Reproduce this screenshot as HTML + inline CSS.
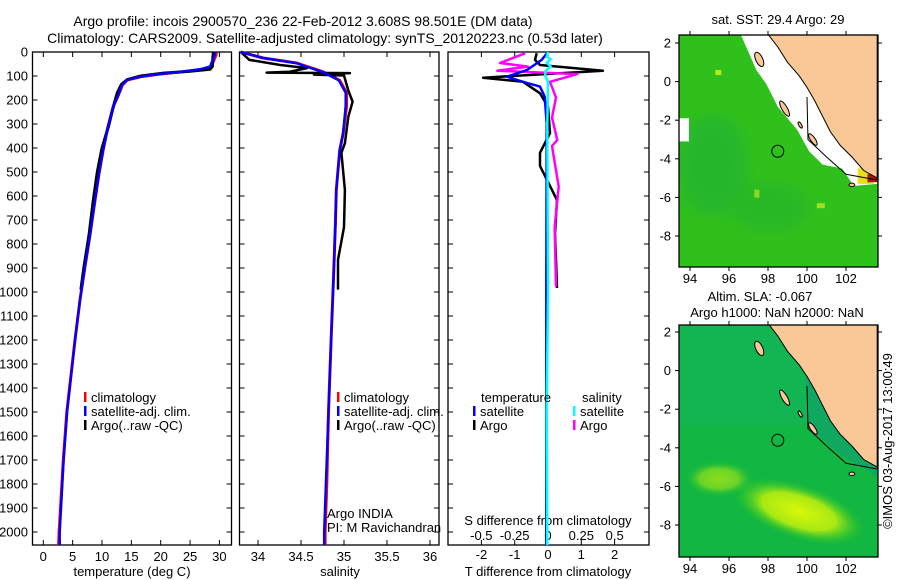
<!DOCTYPE html>
<html><head><meta charset="utf-8">
<style>
html,body{margin:0;padding:0;background:#fff;}
svg{display:block;font-family:"Liberation Sans",sans-serif;}
text{font-size:13px;fill:#000;}
</style></head>
<body>
<svg id="fig" width="900" height="580" viewBox="0 0 900 580">
<text x="303" y="26" text-anchor="middle" style="font-size:14px">Argo profile: incois 2900570_236 22-Feb-2012 3.608S 98.501E (DM data)</text>
<text x="325" y="43" text-anchor="middle" style="font-size:14px">Climatology: CARS2009. Satellite-adjusted climatology: synTS_20120223.nc (0.53d later)</text>
<g id="p1"></g>
<g id="p2"></g>
<g id="p3"></g>
<g id="m1"></g>
<g id="m2"></g>
<text x="778" y="24" text-anchor="middle">sat. SST: 29.4  Argo: 29</text>
<text x="760" y="301" text-anchor="middle">Altim. SLA: -0.067</text>
<text x="777" y="317" text-anchor="middle">Argo h1000: NaN h2000: NaN</text>
<text transform="translate(892,441) rotate(-90)" text-anchor="middle">©IMOS 03-Aug-2017 13:00:49</text>
</svg>
<script>
// ---- data ----
const tClimDepth=[0,14,61,72,83,93,103,117,137,179,228,312,408,505,617,755,894,1033,1200,1500,1700,2000,2054];
const tClim=[29.5,29.4,28.6,27.0,23.6,19.6,16.7,14.3,13.5,12.8,11.9,11.0,10.2,9.5,8.8,8.0,7.1,6.25,5.4,4.0,3.4,2.7,2.6];
const tSat=[29.3,29.2,28.4,26.7,23.3,19.4,16.5,14.2,13.4,12.8,11.9,11.0,10.2,9.5,8.8,8.0,7.1,6.25,5.4,4.05,3.45,2.8,2.8];
const tArgoDepth=[0,20,60,72,80,88,100,115,135,170,230,310,400,500,620,760,900,990];
const tArgo=[29.0,28.9,28.8,28.4,25.0,20.5,16.6,14.3,13.3,12.6,11.9,11.1,10.0,9.2,8.5,7.8,6.9,6.4];
const sClimDepth=[0,25,46,83,118,170,225,340,410,575,715,920,1200,1500,1800,2000,2054];
const sClim=[33.8,34.06,34.45,34.76,34.95,35.03,35.03,34.99,34.95,34.91,34.9,34.88,34.85,34.82,34.8,34.78,34.78];
const sSat=[33.8,34.06,34.44,34.75,34.94,35.02,35.02,34.99,34.95,34.91,34.9,34.88,34.85,34.82,34.79,34.77,34.77];
const sArgoDepth=[0,33,54,67,82,86,88,94,98,160,207,270,380,420,575,730,866,990];
const sArgo=[33.8,33.9,34.26,34.57,34.37,34.1,35.07,34.65,35.0,35.05,35.1,35.05,35.01,34.97,35.01,35.0,34.93,34.93];
const dTArgoDepth=[5,33,54,78,107,124,172,228,338,420,475,533,617,755,867,983];
const dTArgo=[-0.34,-0.39,-0.24,1.65,-1.95,-0.75,-0.24,0,0.06,-0.24,-0.24,-0.03,0.27,0.21,0.24,0.27];
const dTSatDepth=[0,33,75,103,124,144,186,297,1000,1500,2054];
const dTSat=[0,-0.19,-0.63,-1.23,-0.75,-0.24,-0.1,-0.04,-0.05,-0.05,-0.05];
const dSSatDepth=[0,20,30,45,60,80,100,124,300,1000,1500,2054];
const dSSat=[0,-0.01,0.02,-0.01,0.02,-0.02,-0.02,0,-0.005,0,-0.01,-0.005];
const dSArgoDepth=[5,46,61,78,92,124,190,273,367,392,561,728,978];
const dSArgo=[-0.17,-0.36,-0.15,-0.38,0.22,0.015,0.06,0.03,0.07,0.03,0.08,0.05,0.06];
const depthTicks=[0,100,200,300,400,500,600,700,800,900,1000,1100,1200,1300,1400,1500,1600,1700,1800,1900,2000];
const tTicks=[0,5,10,15,20,25,30];
const sTicks=[34,34.5,35,35.5,36];
const dTTicks=[-2,-1,0,1,2];
const dSTicks=[-0.5,-0.25,0,0.25,0.5];
const dSTickLabels=["-0.5","-0.25","0","0.25","0.5"];
const lonTicks=[94,96,98,100,102];
const latTicks=[2,0,-2,-4,-6,-8];

const NS="http://www.w3.org/2000/svg";
function mk(parent,tag,attrs,txt){const e=document.createElementNS(NS,tag);for(const k in attrs)e.setAttribute(k,attrs[k]);if(txt!==undefined)e.textContent=txt;parent.appendChild(e);return e;}
const Y=d=>52+0.24*d;
const XT=t=>43.3+5.87*t;
const XS=s=>258+86*(s-34);
const XdT=v=>548+33.3*v;
const XdS=v=>548+133.3*v;
function line(g,xs,ds,fx,color,w,name){
  let p="";for(let i=0;i<xs.length;i++){p+=(i?"L":"M")+fx(xs[i]).toFixed(1)+","+Y(ds[i]).toFixed(1);}
  const e=mk(g,"path",{d:p,fill:"none",stroke:color,"stroke-width":w,"stroke-linejoin":"round"});
  
  
}
function frame(g,x0,x1,name){
  const r=mk(g,"rect",{x:x0,y:52,width:x1-x0,height:493,fill:"none",stroke:"#000","stroke-width":1.3});
  
  
  depthTicks.forEach(d=>{mk(g,"line",{x1:x0,x2:x0+5,y1:Y(d),y2:Y(d),stroke:"#000"});mk(g,"line",{x1:x1,x2:x1-5,y1:Y(d),y2:Y(d),stroke:"#000"});});
}
function xticks(g,ticks,labels,fx,ly,top){
  ticks.forEach((t,i)=>{const x=fx(t);mk(g,"line",{x1:x,x2:x,y1:545,y2:540,stroke:"#000"});
    if(top)mk(g,"line",{x1:x,x2:x,y1:52,y2:57,stroke:"#000"});
    if(ly){const tx=mk(g,"text",{x:x,y:ly,"text-anchor":"middle"},labels[i]);
      
      }});
}
function legend(g,x,y,items){
  items.forEach((it,i)=>{mk(g,"rect",{x:x,y:y+i*14-10,width:2.5,height:10,fill:it[1]});
    const t=mk(g,"text",{x:x+7,y:y+i*14},it[0]);
    
    });
}
// Panel 1
const p1=document.getElementById("p1");
frame(p1,32.5,231.5,"temperature-frame");
depthTicks.forEach(d=>{const t=mk(p1,"text",{x:28,y:Y(d)+4.5,"text-anchor":"end"},String(d));
  
  });
xticks(p1,tTicks,tTicks.map(String),XT,561,true);
mk(p1,"text",{x:132,y:576,"text-anchor":"middle",},"temperature (deg C)");
line(p1,tClim,tClimDepth,XT,"#f00",3,"temperature-climatology");
line(p1,tArgo,tArgoDepth,XT,"#000",3,"temperature-argo");
line(p1,tSat,tClimDepth,XT,"#00f",2.5,"temperature-satellite");
legend(p1,84,402,[["climatology","#f00"],["satellite-adj. clim.","#00f"],["Argo(..raw -QC)","#000"]]);
// Panel 2
const p2=document.getElementById("p2");
frame(p2,239.5,439,"salinity-frame");
xticks(p2,sTicks,sTicks.map(String),XS,561,true);
mk(p2,"text",{x:340,y:576,"text-anchor":"middle",},"salinity");
line(p2,sClim,sClimDepth,XS,"#f00",3,"salinity-climatology");
line(p2,sArgo,sArgoDepth,XS,"#000",2.5,"salinity-argo");
line(p2,sSat,sClimDepth,XS,"#00f",2.5,"salinity-satellite");
legend(p2,337,402,[["climatology","#f00"],["satellite-adj. clim.","#00f"],["Argo(..raw -QC)","#000"]]);
mk(p2,"text",{x:327,y:518,},"Argo INDIA");
mk(p2,"text",{x:327,y:532,},"PI: M Ravichandran");
// Panel 3
const p3=document.getElementById("p3");
frame(p3,448,649,"difference-frame");
xticks(p3,dTTicks,dTTicks.map(String),XdT,559,true);
dSTicks.forEach((t,i)=>{const tx=mk(p3,"text",{x:XdS(t),y:540,"text-anchor":"middle"},dSTickLabels[i]);
  
  });
mk(p3,"text",{x:548,y:525,"text-anchor":"middle",},"S difference from climatology");
mk(p3,"text",{x:548,y:576,"text-anchor":"middle",},"T difference from climatology");
line(p3,dTArgo,dTArgoDepth,XdT,"#000",2.5,"t-diff-argo");
line(p3,dSArgo,dSArgoDepth,XdS,"#f0f",2.5,"s-diff-argo");
line(p3,dTSat,dTSatDepth,XdT,"#00f",2.5,"t-diff-satellite");
line(p3,dSSat,dSSatDepth,XdS,"#0ff",2.5,"s-diff-satellite");
mk(p3,"text",{x:481,y:402,},"temperature");
mk(p3,"text",{x:582,y:402,},"salinity");
legend(p3,473,416,[["satellite","#00f"],["Argo","#000"]]);
legend(p3,573,416,[["satellite","#0ff"],["Argo","#f0f"]]);

// Maps
const landPoly=[[98.0,2.45],[98.5,1.8],[99.0,1.0],[99.6,0.3],[100.0,-0.3],[100.4,-1.0],[100.8,-1.8],[101.2,-2.6],[101.7,-3.3],[102.3,-3.9],[102.9,-4.6],[103.6,-5.0],[103.6,2.45]];
const whitePoly=[[96.6,2.45],[97.4,0.6],[97.9,-0.1],[98.5,-1.3],[99.5,-2.5],[100.1,-3.6],[100.8,-4.3],[101.8,-4.5],[102.4,-5.4],[103.6,-5.3],[103.6,2.45]];
const islands=[[97.55,1.15,0.18,0.4,-25],[98.85,-1.4,0.14,0.45,-30],[99.65,-2.25,0.07,0.18,-30],[100.3,-3.0,0.12,0.35,-35],[102.3,-5.35,0.15,0.09,0]];
function drawMap(id,top,bottom,lat2y,kind){
  const g=document.getElementById(id);
  const X=l=>690+19.5*(l-94), Yl=la=>lat2y+(2-la)*19.3;
  const cid="clip"+id;
  const cp=mk(g,"clipPath",{id:cid});mk(cp,"rect",{x:679,y:top,width:199,height:bottom-top});
  const inner=mk(g,"g",{"clip-path":"url(#"+cid+")"});
  const defs=mk(g,"defs",{});
  const bl=mk(defs,"filter",{id:"blur"+id});mk(bl,"feGaussianBlur",{stdDeviation:"6"});
  if(kind===1){
    mk(inner,"rect",{x:679,y:top,width:199,height:bottom-top,fill:"#30c01c"});
    mk(inner,"ellipse",{cx:712,cy:Yl(-4.3),rx:35,ry:50,fill:"#1fae3c",opacity:0.5,filter:"url(#blurm1)"});
    mk(inner,"ellipse",{cx:770,cy:Yl(-6.5),rx:40,ry:25,fill:"#22b030",opacity:0.45,filter:"url(#blurm1)"});
    mk(inner,"rect",{x:X(95.3),y:Yl(0.6),width:6,height:5,fill:"#b8e81c"});
    mk(inner,"rect",{x:X(97.3),y:Yl(-5.6),width:5,height:8,fill:"#8cd820"});
    mk(inner,"rect",{x:X(100.5),y:Yl(-6.3),width:8,height:5,fill:"#a0e020"});
    let wp=whitePoly.map(p=>X(p[0])+","+Yl(p[1])).join(" ");
    mk(inner,"polygon",{points:wp,fill:"#fff"});
    mk(inner,"rect",{x:679,y:Yl(-1.9),width:10,height:Yl(-3.1)-Yl(-1.9),fill:"#fff"});
    mk(inner,"rect",{x:X(102.6),y:Yl(-4.5),width:16,height:Yl(-5.3)-Yl(-4.5),fill:"#e8e010"});
    mk(inner,"rect",{x:X(103.1),y:Yl(-4.8),width:10,height:8,fill:"#b01010"});
  } else {
    const lg=mk(defs,"radialGradient",{id:"blob",cx:"0.5",cy:"0.5",r:"0.5"});
    mk(lg,"stop",{offset:"0","stop-color":"#d8f80a"});
    mk(lg,"stop",{offset:"0.55","stop-color":"#a8e814"});
    mk(lg,"stop",{offset:"1","stop-color":"#19c02a","stop-opacity":"0"});
    mk(inner,"rect",{x:679,y:top,width:199,height:bottom-top,fill:"#12b642"});
    mk(inner,"rect",{x:679,y:top,width:199,height:100,fill:"#13b468",opacity:0.4});
    mk(inner,"ellipse",{cx:X(99.6),cy:Yl(-7.3),rx:70,ry:28,fill:"url(#blob)",transform:"rotate(18 "+X(99.6)+" "+Yl(-7.3)+")"});
    mk(inner,"ellipse",{cx:X(95.5),cy:Yl(-5.6),rx:35,ry:18,fill:"url(#blob)",opacity:0.6});
    mk(inner,"polygon",{points:[[99.9,-0.5],[100.1,-3.0],[101.8,-4.4],[103.6,-5.5],[103.6,-1],[100.5,0]].map(p=>X(p[0])+","+Yl(p[1])).join(" "),fill:"#10a860"});
  }
  let lp=landPoly.map(p=>X(p[0])+","+Yl(p[1])).join(" ");
  const land=mk(inner,"polygon",{points:lp,fill:"#fac896",stroke:"#000","stroke-width":1});
  
  
  mk(inner,"polyline",{points:[[100.0,-0.8],[100.05,-3.0],[101.0,-3.9],[102.0,-4.8],[103.6,-5.1]].map(p=>X(p[0])+","+Yl(p[1])).join(" "),fill:"none",stroke:"#000","stroke-width":1});
  islands.forEach(s=>{const e=mk(inner,"ellipse",{cx:X(s[0]),cy:Yl(s[1]),rx:s[2]*19.5,ry:s[3]*19.3,fill:"#fac896",stroke:"#000","stroke-width":1,transform:"rotate("+s[4]+" "+X(s[0])+" "+Yl(s[1])+")"});
    
    });
  const c=mk(inner,"circle",{cx:X(98.501),cy:Yl(-3.608),r:6,fill:"none",stroke:"#000","stroke-width":1});
  
  
  const fr=mk(g,"rect",{x:679,y:top,width:199,height:bottom-top,fill:"none",stroke:"#000","stroke-width":1.3});
  
  
  lonTicks.forEach(l=>{mk(g,"line",{x1:X(l),x2:X(l),y1:top,y2:top-4,stroke:"#000"});mk(g,"line",{x1:X(l),x2:X(l),y1:bottom,y2:bottom+4,stroke:"#000"});
    const t=mk(g,"text",{x:X(l),y:bottom+16,"text-anchor":"middle"},String(l));
    
    });
  latTicks.forEach(la=>{mk(g,"line",{x1:679,x2:675,y1:Yl(la),y2:Yl(la),stroke:"#000"});mk(g,"line",{x1:878,x2:882,y1:Yl(la),y2:Yl(la),stroke:"#000"});
    const t=mk(g,"text",{x:671,y:Yl(la)+4.5,"text-anchor":"end"},String(la));
    
    });
}
drawMap("m1",35,267,43,1);
drawMap("m2",325,557,332,2);
</script>
</body></html>
